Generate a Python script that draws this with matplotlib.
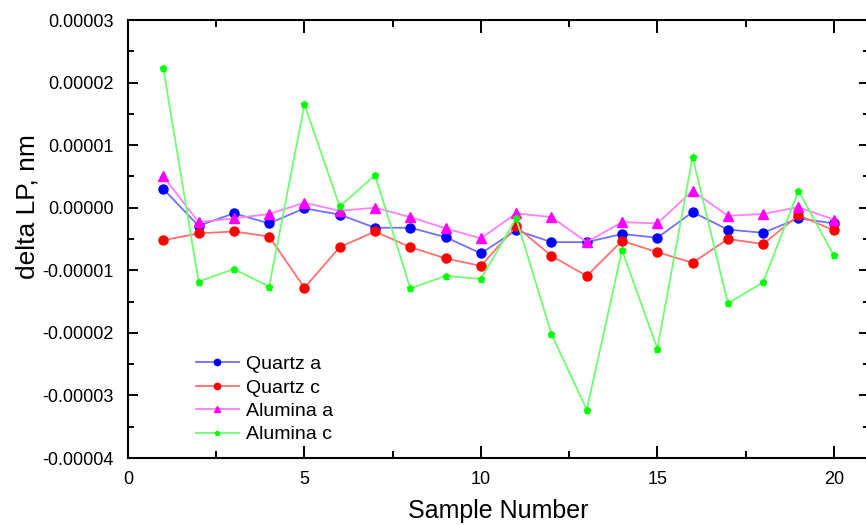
import matplotlib
matplotlib.use("Agg")
import matplotlib.pyplot as plt
from matplotlib.ticker import MultipleLocator, FormatStrFormatter

plt.rcParams['font.family'] = ['Liberation Sans', 'DejaVu Sans']

# valores (unidades de 1e-5 nm)
muestras = list(range(1, 21))
quartz_a = [0.30, -0.29, -0.09, -0.25, -0.01, -0.11, -0.32, -0.32, -0.47, -0.73,
            -0.36, -0.55, -0.55, -0.42, -0.48, -0.07, -0.35, -0.40, -0.17, -0.25]
quartz_c = [-0.52, -0.41, -0.38, -0.46, -1.28, -0.63, -0.38, -0.63, -0.81, -0.93,
            -0.30, -0.77, -1.09, -0.53, -0.71, -0.88, -0.50, -0.58, -0.12, -0.36]
alumina_a = [0.50, -0.23, -0.17, -0.10, 0.08, -0.05, 0.00, -0.15, -0.33, -0.49,
             -0.09, -0.15, -0.55, -0.23, -0.25, 0.27, -0.13, -0.10, 0.01, -0.19]
alumina_c = [2.23, -1.18, -0.98, -1.26, 1.65, 0.02, 0.52, -1.29, -1.09, -1.14,
             -0.17, -2.02, -3.23, -0.68, -2.25, 0.81, -1.53, -1.19, 0.27, -0.76]

escala = 1e-5

fig = plt.figure(figsize=(8.66, 5.25), dpi=100)
ax = fig.add_axes([0.1478, 0.1276, 0.8557, 0.8343])

ax.plot(muestras, [v * escala for v in quartz_a], color='#7070ff', lw=1.3,
        marker='o', ms=6.5, mfc='#0000ff', mec='#0000ff', label='Quartz a')
ax.plot(muestras, [v * escala for v in quartz_c], color='#ff7070', lw=1.3,
        marker='o', ms=6.5, mfc='#ff0000', mec='#ff0000', label='Quartz c')
ax.plot(muestras, [v * escala for v in alumina_a], color='#ff80ff', lw=1.3,
        marker='^', ms=6.5, mfc='#ff00ff', mec='#ff00ff', label='Alumina a')
ax.plot(muestras, [v * escala for v in alumina_c], color='#70ff70', lw=1.3,
        marker='p', ms=4.5, mfc='#00ff00', mec='#00ff00', label='Alumina c')

ax.set_xlim(0, 21)
ax.set_ylim(-0.00004, 0.00003)
ax.xaxis.set_major_locator(MultipleLocator(5))
ax.xaxis.set_minor_locator(MultipleLocator(2.5))
ax.yaxis.set_major_locator(MultipleLocator(0.00001))
ax.yaxis.set_minor_locator(MultipleLocator(0.000005))
ax.yaxis.set_major_formatter(FormatStrFormatter('%.5f'))

ax.tick_params(which='both', direction='in', top=True, right=True, width=1.4,
               labelsize=13)
ax.tick_params(axis='x', which='major', length=9, pad=9)
ax.tick_params(axis='x', which='minor', length=5)
ax.tick_params(axis='y', which='major', length=7, pad=10)
ax.tick_params(axis='y', which='minor', length=4)
for s in ax.spines.values():
    s.set_linewidth(1.5)

ax.set_xlabel('Sample Number', fontsize=18, labelpad=8)
ax.set_ylabel('delta LP, nm', fontsize=19, labelpad=6)
ax.yaxis.set_label_coords(-0.119, 0.573)

ax.legend(loc='upper left', bbox_to_anchor=(0.068, 0.274), frameon=False,
          fontsize=14, handlelength=2.2, labelspacing=0.3, handletextpad=0.4,
          markerscale=0.7)

fig.savefig('out.png', dpi=100)
